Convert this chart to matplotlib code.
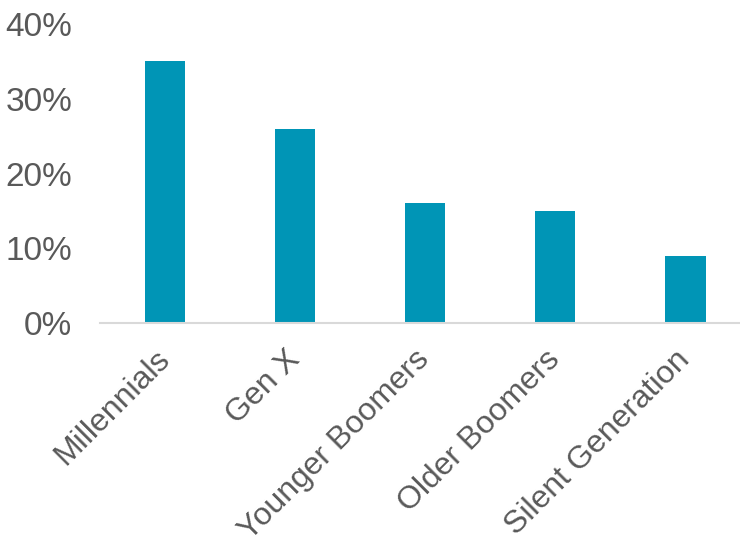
import matplotlib.pyplot as plt
from matplotlib.ticker import PercentFormatter

plt.rcParams['font.family'] = ['Liberation Sans', 'DejaVu Sans']

# Share by generation
generations = ['Millennials', 'Gen X', 'Younger Boomers', 'Older Boomers', 'Silent Generation']
shares = [35, 26, 16, 15, 9]

bar_color = '#0095B6'
text_color = '#595959'

fig = plt.figure(figsize=(7.4, 5.4), dpi=100)
ax = fig.add_axes([100 / 740, 1 - 323 / 540, 640 / 740, (323 - 24) / 540])

x = range(len(generations))
ax.bar(x, shares, width=0.31, color=bar_color, zorder=2)

ax.set_xlim(-0.5, 4.42)
ax.set_ylim(0, 40)
ax.set_yticks([0, 10, 20, 30, 40])
ax.yaxis.set_major_formatter(PercentFormatter(decimals=0))

ax.set_xticks(list(x))
ax.set_xticklabels(generations, rotation=45, ha='right', va='center',
                   rotation_mode='anchor', fontsize=23)

for side in ['top', 'right', 'left']:
    ax.spines[side].set_visible(False)
ax.spines['bottom'].set_color('#D9D9D9')
ax.spines['bottom'].set_linewidth(1.5)

ax.tick_params(axis='both', length=0, labelcolor=text_color)
ax.tick_params(axis='y', pad=20, labelsize=24)
ax.tick_params(axis='x', pad=23)

fig.savefig('out.png', dpi=100)
